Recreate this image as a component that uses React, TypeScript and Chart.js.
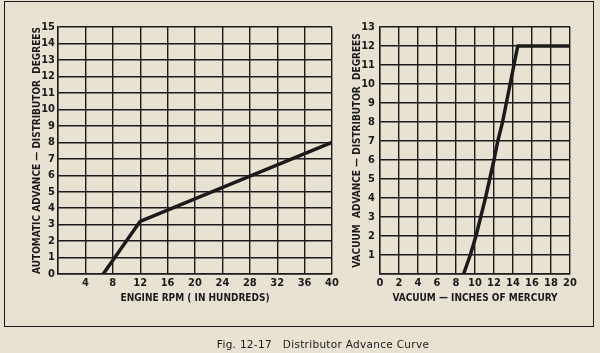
import React, { useEffect, useRef } from "react";
import { Chart, registerables } from "chart.js";
Chart.register(...registerables);

// Automatic advance (engine rpm in hundreds -> distributor degrees)
const rpmPoints = [6.6, 12, 40];
const autoAdvance = [0, 3.2, 8];
// Vacuum advance (inches of mercury -> distributor degrees)
const vacuumPoints = [8.8, 9.5, 10.1, 10.6, 11.1, 11.55, 12, 12.4, 12.9, 13.3, 13.7, 14.1, 14.5, 20];
const vacuumAdvance = [0, 1, 2, 3, 4, 5, 6, 7, 8, 9, 10, 11, 12, 12];

const leftTitleX = "ENGINE RPM ( IN HUNDREDS)";
const leftTitleY = "AUTOMATIC ADVANCE \u2014 DISTRIBUTOR  DEGREES";
const rightTitleX = "VACUUM \u2014 INCHES OF MERCURY";
const rightTitleY = "VACUUM  ADVANCE \u2014 DISTRIBUTOR  DEGREES";
const caption = "Fig. 12-17   Distributor Advance Curve";

const FONT = "'Liberation Sans Narrow', 'DejaVu Sans Condensed', 'Liberation Sans', sans-serif";
const INK = "#1b1b1b";
const PAPER = "#e7e2d2";

function makeChart(
  canvas: HTMLCanvasElement,
  xs: number[],
  ys: number[],
  cfg: {
    padLeft: number;
    padRight: number;
    yWidth: number;
    xMax: number;
    xStep: number;
    yMax: number;
    titleX: string;
    titleY: string;
    hideZero: boolean;
    yTitlePad: number;
    yTickPad: number;
  }
) {
  const data = xs.map((x, i) => ({ x, y: ys[i] }));
  return new Chart(canvas, {
    type: "scatter",
    data: {
      datasets: [
        {
          data,
          showLine: true,
          borderColor: INK,
          borderWidth: 3.5,
          pointRadius: 0,
          borderCapStyle: "butt",
          borderJoinStyle: "round",
        } as any,
      ],
    },
    options: {
      animation: false,
      responsive: false,
      maintainAspectRatio: false,
      layout: { padding: { left: cfg.padLeft, right: cfg.padRight, top: 27, bottom: 0 } },
      plugins: { legend: { display: false }, tooltip: { enabled: false } },
      scales: {
        x: {
          type: "linear",
          min: 0,
          max: cfg.xMax,
          afterFit: (s: any) => {
            s.height = 79;
          },
          grid: { color: INK, lineWidth: 1.4, drawTicks: false },
          border: { color: INK, width: 1.4 },
          ticks: {
            stepSize: cfg.xStep,
            autoSkip: false,
            maxRotation: 0,
            minRotation: 0,
            padding: 3,
            color: INK,
            font: { family: FONT, size: 11, weight: "bold" },
            callback: (v: any) => (cfg.hideZero && v === 0 ? "" : String(v)),
          },
          title: {
            display: true,
            text: cfg.titleX,
            color: INK,
            font: { family: FONT, size: 10, weight: "bold" },
            padding: { top: 0, bottom: 49 },
          },
        },
        y: {
          type: "linear",
          min: 0,
          max: cfg.yMax,
          afterFit: (s: any) => {
            s.width = cfg.yWidth;
          },
          grid: { color: INK, lineWidth: 1.4, drawTicks: false },
          border: { color: INK, width: 1.4 },
          ticks: {
            stepSize: 1,
            autoSkip: false,
            padding: cfg.yTickPad,
            color: INK,
            font: { family: FONT, size: 11, weight: "bold" },
            callback: (v: any) => (!cfg.hideZero && v === 0 ? "" : String(v)),
          },
          title: {
            display: true,
            text: cfg.titleY,
            color: INK,
            font: { family: FONT, size: 10, weight: "bold" },
            padding: { top: cfg.yTitlePad, bottom: 0 },
          },
        },
      },
    },
  });
}

export default function App() {
  const leftRef = useRef<HTMLCanvasElement>(null);
  const rightRef = useRef<HTMLCanvasElement>(null);

  useEffect(() => {
    const a = makeChart(leftRef.current!, rpmPoints, autoAdvance, {
      padLeft: 4,
      padRight: 268,
      yWidth: 54,
      xMax: 40,
      xStep: 4,
      yMax: 15,
      titleX: leftTitleX,
      titleY: leftTitleY,
      hideZero: true,
      yTitlePad: 27,
      yTickPad: 3,
    });
    const b = makeChart(rightRef.current!, vacuumPoints, vacuumAdvance, {
      padLeft: 340,
      padRight: 30,
      yWidth: 40,
      xMax: 20,
      xStep: 2,
      yMax: 13,
      titleX: rightTitleX,
      titleY: rightTitleY,
      hideZero: false,
      yTitlePad: 11,
      yTickPad: 5,
    });
    return () => {
      a.destroy();
      b.destroy();
    };
  }, []);

  return (
    <div
      style={{
        position: "fixed",
        left: 0,
        top: 0,
        width: 600,
        height: 353,
        background: PAPER,
        overflow: "hidden",
      }}
    >
      <div
        style={{
          position: "absolute",
          left: 4,
          top: 1,
          width: 590,
          height: 326,
          border: `1.5px solid ${INK}`,
          boxSizing: "border-box",
        }}
      />
      <canvas
        ref={leftRef}
        width={600}
        height={353}
        style={{ position: "absolute", left: 0, top: 0, width: 600, height: 353 }}
      />
      <canvas
        ref={rightRef}
        width={600}
        height={353}
        style={{ position: "absolute", left: 0, top: 0, width: 600, height: 353 }}
      />
      <div
        style={{
          position: "absolute",
          left: 0,
          width: 646,
          top: 338,
          textAlign: "center",
          whiteSpace: "pre",
          fontFamily: "'DejaVu Sans', sans-serif",
          fontSize: 10.5,
          color: INK,
          letterSpacing: 0.3,
        }}
      >
        {caption}
      </div>
    </div>
  );
}
